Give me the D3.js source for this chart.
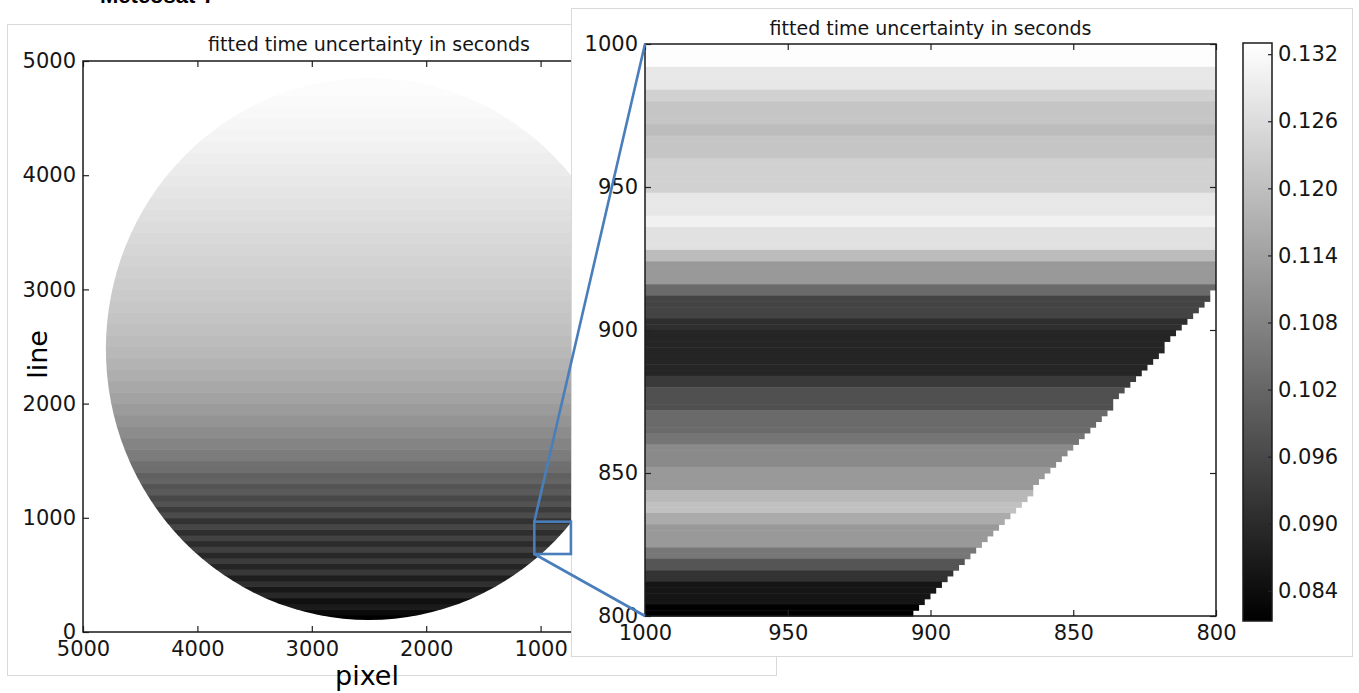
<!DOCTYPE html>
<html lang="en">
<head>
<meta charset="utf-8">
<title>fitted time uncertainty in seconds</title>
<script src="https://d3js.org/d3.v7.min.js"></script>
<style>
  body { margin: 0; background: #fff; }
  svg text { font-family: "DejaVu Sans", sans-serif; }
</style>
</head>
<body>
<div id="chart"></div>
<script>
// ---------------- data ----------------
// full disk (left): band start line and fitted time uncertainty (s) for that band
const diskBandLines = [100, 150, 200, 250, 300, 350, 400, 450, 500, 550, 600, 650, 700, 750,
  800, 850, 900, 950, 1000, 1050, 1100, 1150, 1200, 1250, 1300, 1350, 1400, 1450,
  1500, 1600, 1700, 1800, 1900, 2000, 2100, 2200, 2300, 2400, 2500, 2600, 2700, 2800,
  2900, 3000, 3100, 3200, 3300, 3400, 3500, 3600, 3700, 3800, 3900, 4000, 4100, 4200,
  4300, 4400, 4500, 4600, 4700];
const diskBandTop = 4900;
const diskBandValues = [0.080, 0.093, 0.113, 0.100, 0.130, 0.110, 0.140, 0.118, 0.150, 0.125,
  0.155, 0.130, 0.160, 0.135, 0.163, 0.138, 0.168, 0.143, 0.175, 0.155, 0.183, 0.170, 0.193,
  0.185, 0.205, 0.200, 0.218, 0.221,
  0.236, 0.246, 0.256, 0.266, 0.275, 0.283, 0.291, 0.298, 0.305, 0.311, 0.316, 0.321, 0.326,
  0.330, 0.334, 0.337, 0.341, 0.345, 0.349, 0.352, 0.356, 0.360, 0.364, 0.367, 0.371, 0.375,
  0.379, 0.382, 0.386, 0.389, 0.391, 0.394, 0.396];
const diskDomain = [0.08, 0.40];
// outline of the disk as drawn in the overview (pixel, line)
const diskCenter = [2500, 2478];
const diskRadii = [2300, 2373];
// limb as resolved in the zoom (pixel, line)
const limbCenter = [2500, 2400];
const limbRadius = 2260;

// zoom (right): rows of 4 lines, pixel 1000 -> 800
const zoomRowLines = [996, 992, 988, 984, 980, 976, 972, 968, 964, 960, 956, 952, 948, 944, 940,
  936, 932, 928, 924, 920, 916, 912, 908, 904, 900, 896, 892, 888, 884, 880, 876, 872, 868, 864,
  860, 856, 852, 848, 844, 840, 836, 832, 828, 824, 820, 816, 812, 808, 804, 800];
const zoomRowValues = [0.1326, 0.1326, 0.1281, 0.1281, 0.1236, 0.1212, 0.1212, 0.1195, 0.1212,
  0.1212, 0.1236, 0.1236, 0.1236, 0.1281, 0.1281, 0.1301, 0.1269, 0.1269, 0.1195, 0.1124, 0.1124,
  0.1028, 0.0951, 0.0951, 0.0906, 0.0889, 0.0889, 0.0889, 0.0889, 0.0930, 0.0975, 0.0975, 0.1028,
  0.1028, 0.1051, 0.1093, 0.1093, 0.1124, 0.1124, 0.1187, 0.1204, 0.1159, 0.1124, 0.1124, 0.1055,
  0.0985, 0.0916, 0.0855, 0.0855, 0.0815];
const zoomDomain = [0.0813, 0.1330];

const overviewTicks = [0, 1000, 2000, 3000, 4000, 5000];
const zoomTicks = [800, 850, 900, 950, 1000];
const colorbarTicks = [0.084, 0.090, 0.096, 0.102, 0.108, 0.114, 0.120, 0.126, 0.132];
const calloutPixels = [1055, 735];
const calloutLines = [683, 966];

const titleText = "fitted time uncertainty in seconds";

// ---------------- chart ----------------
const W = 1359, H = 693;
const svg = d3.select("#chart").append("svg")
  .attr("width", W).attr("height", H)
  .style("display", "block");
const defs = svg.append("defs");

svg.append("rect").attr("width", W).attr("height", H).attr("fill", "#fff");

// heading, cut off at the very top
svg.append("text").attr("x", 100).attr("y", 3)
  .style("font-family", "'Liberation Sans', Arial, sans-serif")
  .style("font-weight", "bold").style("font-size", "22px")
  .attr("fill", "#000").text("Meteosat-7");

// frame of left figure
svg.append("rect").attr("x", 7.5).attr("y", 24.5).attr("width", 769).attr("height", 651)
  .attr("fill", "#fff").attr("stroke", "#d9d9d9");

const xL = d3.scaleLinear().domain([5000, 0]).range([83, 655]);
const yL = d3.scaleLinear().domain([0, 5000]).range([632, 61]);
const xZ = d3.scaleLinear().domain([1000, 800]).range([645, 1216]);
const yZ = d3.scaleLinear().domain([800, 1000]).range([616, 44]);

const grayL = d3.scaleLinear().domain(diskDomain).range(["#000", "#fff"]).clamp(true);
const grayZ = d3.scaleLinear().domain(zoomDomain).range(["#000", "#fff"]).clamp(true);

function styleAxis(g, size) {
  g.select(".domain").remove();
  g.attr("font-family", null).attr("font-size", null);
  g.selectAll("text").style("font-size", size + "px").attr("fill", "#151515");
  g.selectAll("line").attr("stroke", "#222").attr("stroke-width", 1.2);
}

function drawAxes(g, x, y, ticks, fmt) {
  const [x0, x1] = x.range(), [y0, y1] = y.range();
  g.append("g").attr("transform", `translate(0,${y0})`)
    .call(d3.axisBottom(x).tickValues(ticks).tickSizeInner(-6).tickSizeOuter(0).tickPadding(9).tickFormat(fmt))
    .call(a => styleAxis(a, 21));
  g.append("g").attr("transform", `translate(0,${y1})`)
    .call(d3.axisTop(x).tickValues(ticks).tickSizeInner(-6).tickSizeOuter(0).tickFormat(""))
    .call(a => styleAxis(a, 21));
  g.append("g").attr("transform", `translate(${x0},0)`)
    .call(d3.axisLeft(y).tickValues(ticks).tickSizeInner(-6).tickSizeOuter(0).tickPadding(7).tickFormat(fmt))
    .call(a => styleAxis(a, 21));
  g.append("g").attr("transform", `translate(${x1},0)`)
    .call(d3.axisRight(y).tickValues(ticks).tickSizeInner(-6).tickSizeOuter(0).tickFormat(""))
    .call(a => styleAxis(a, 21));
  g.append("rect").attr("x", x0).attr("y", y1).attr("width", x1 - x0).attr("height", y0 - y1)
    .attr("fill", "none").attr("stroke", "#1a1a1a").attr("stroke-width", 1.5);
}

// ---- left panel: full disk ----
const left = svg.append("g");
defs.append("clipPath").attr("id", "disk")
  .append("ellipse")
  .attr("cx", xL(diskCenter[0])).attr("cy", yL(diskCenter[1]))
  .attr("rx", Math.abs(xL(diskCenter[0] - diskRadii[0]) - xL(diskCenter[0])))
  .attr("ry", Math.abs(yL(diskCenter[1] - diskRadii[1]) - yL(diskCenter[1])));

const bands = diskBandLines.map((l, i) => ({
  lo: i === 0 ? 0 : l, hi: i < diskBandLines.length - 1 ? diskBandLines[i + 1] : diskBandTop, v: diskBandValues[i]
}));
left.append("g").attr("clip-path", "url(#disk)")
  .selectAll("rect").data(bands).join("rect")
  .attr("x", xL(5000)).attr("width", xL(0) - xL(5000))
  .attr("y", d => yL(d.hi)).attr("height", d => yL(d.lo) - yL(d.hi) + 0.6)
  .attr("fill", d => grayL(d.v));

drawAxes(left, xL, yL, overviewTicks, d3.format("d"));

left.append("text").attr("x", xL(2500)).attr("y", 51).attr("text-anchor", "middle")
  .style("font-size", "19px").attr("fill", "#151515").text(titleText);
left.append("text").attr("transform", `translate(47,${yL(2500) + 8}) rotate(-90)`)
  .attr("text-anchor", "middle").style("font-size", "27px").attr("fill", "#000").text("line");
left.append("text").attr("x", xL(2500) - 2).attr("y", 685).attr("text-anchor", "middle")
  .style("font-size", "27px").attr("fill", "#000").text("pixel");

// ---- right panel: zoom ----
const right = svg.append("g");
right.append("rect").attr("x", 571.5).attr("y", 8.5).attr("width", 781).attr("height", 648)
  .attr("fill", "#fff").attr("stroke", "#d9d9d9");

// each 4-line row is split in 2-line steps so the limb shows as a staircase
const steps = [];
zoomRowLines.forEach((l, i) => {
  [l, l + 2].forEach(s => {
    const dy = limbCenter[1] - (s + 1);
    if (limbRadius * limbRadius <= dy * dy) return;
    const limb = limbCenter[0] - Math.sqrt(limbRadius * limbRadius - dy * dy);
    const end = Math.max(800, Math.ceil(limb / 2) * 2 + 2);
    if (end >= 1000) return;
    steps.push({ lo: s, hi: s + 2, end: end, v: zoomRowValues[i] });
  });
});
right.append("g").selectAll("rect").data(steps).join("rect")
  .attr("x", xZ(1000)).attr("width", d => xZ(d.end) - xZ(1000))
  .attr("y", d => yZ(d.hi)).attr("height", d => yZ(d.lo) - yZ(d.hi) + 0.5)
  .attr("fill", d => grayZ(d.v));

drawAxes(right, xZ, yZ, zoomTicks, d3.format("d"));

right.append("text").attr("x", xZ(900)).attr("y", 35).attr("text-anchor", "middle")
  .style("font-size", "19px").attr("fill", "#151515").text(titleText);

// colorbar
const cbY = d3.scaleLinear().domain(zoomDomain).range([621, 43]);
const grad = defs.append("linearGradient").attr("id", "cb")
  .attr("x1", 0).attr("x2", 0).attr("y1", 1).attr("y2", 0);
grad.append("stop").attr("offset", 0).attr("stop-color", grayZ(zoomDomain[0]));
grad.append("stop").attr("offset", 1).attr("stop-color", grayZ(zoomDomain[1]));
const cbX = 1243, cbW = 29;
right.append("rect").attr("x", cbX).attr("y", cbY(zoomDomain[1]))
  .attr("width", cbW).attr("height", cbY(zoomDomain[0]) - cbY(zoomDomain[1]))
  .attr("fill", "url(#cb)").attr("stroke", "#1a1a1a").attr("stroke-width", 1.5);
right.append("g").attr("transform", `translate(${cbX + cbW},0)`)
  .call(d3.axisRight(cbY).tickValues(colorbarTicks).tickSizeInner(-4).tickSizeOuter(0)
    .tickPadding(6).tickFormat(d3.format(".3f")))
  .call(a => styleAxis(a, 21));

// ---- callout ----
const blue = "#4a7ebb";
const co = svg.append("g").attr("fill", "none").attr("stroke", blue).attr("stroke-width", 2.6);
co.append("rect")
  .attr("x", xL(calloutPixels[0])).attr("y", yL(calloutLines[1]))
  .attr("width", xL(calloutPixels[1]) - xL(calloutPixels[0]))
  .attr("height", yL(calloutLines[0]) - yL(calloutLines[1]));
co.append("line")
  .attr("x1", xL(calloutPixels[0])).attr("y1", yL(calloutLines[1]))
  .attr("x2", xZ(1000)).attr("y2", yZ(1000));
co.append("line")
  .attr("x1", xL(calloutPixels[0])).attr("y1", yL(calloutLines[0]))
  .attr("x2", xZ(1000)).attr("y2", yZ(800));
</script>
</body>
</html>
